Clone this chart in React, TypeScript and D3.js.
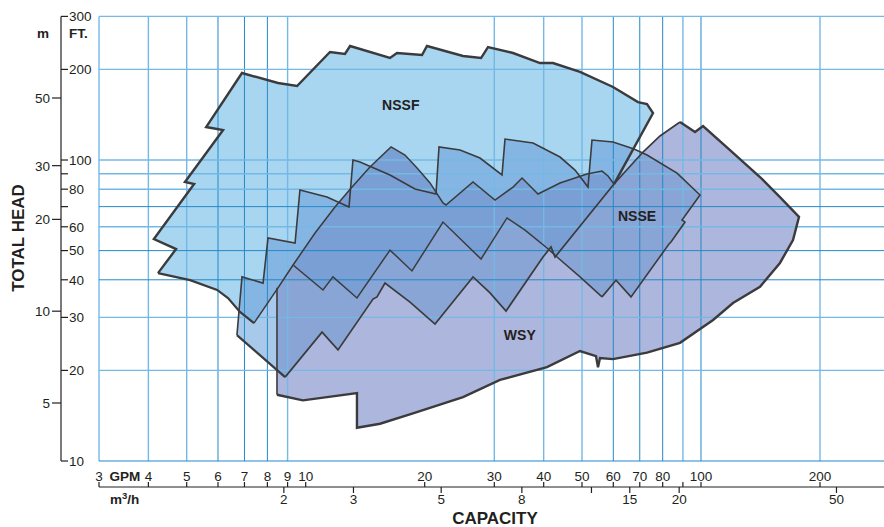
import React from 'react';
import * as d3 from 'd3';

type P = [number, number];

// ---- data: [capacity GPM, total head ft] ----
const nssfOuter: P[] = [
  [4.23, 42.1], [4.70, 50.6], [4.13, 54.6], [5.22, 83.2], [4.95, 84.5], [6.18, 125.8], [5.60, 128.7],
  [6.90, 194.6], [8.51, 180.2], [9.51, 176.1], [11.52, 228.5], [12.57, 225.0], [12.95, 239.2],
  [16.34, 218.2], [17.02, 226.7], [19.69, 223.3], [20.27, 239.2], [25.0, 221.6], [27.77, 218.2],
  [28.92, 237.4], [33.46, 226.7], [39.15, 210.0], [42.23, 210.0], [49.42, 196.1], [59.90, 174.8],
  [69.29, 155.8], [73.02, 153.5], [75.62, 143.3], [60.25, 83.2],
];
const nssfBase: P[] = [[4.23, 42.1], [5.10, 39.9], [5.97, 37.0], [6.36, 34.8], [6.82, 31.3], [7.40, 28.7]];
const nssfLower: P[] = [
  [7.40, 28.7], [8.51, 37.6], [9.29, 44.8], [10.56, 57.2], [11.86, 69.8], [13.10, 81.3], [14.54, 94.8],
  [16.44, 110.5], [17.83, 103.9], [19.13, 94.1], [20.63, 83.9], [22.25, 72.0], [22.64, 70.9],
  [26.50, 84.5], [30.12, 73.6], [33.46, 81.3], [35.26, 87.1], [38.70, 77.1], [43.99, 83.9],
  [51.48, 89.8], [56.18, 91.9], [58.18, 88.5], [60.25, 83.2],
];
const nsseOutline: P[] = [
  [6.70, 26.2], [6.90, 40.9], [7.80, 39.0], [8.03, 55.1], [9.40, 53.0], [9.67, 79.5], [11.32, 75.3],
  [12.87, 69.8], [13.17, 100], [13.72, 98.5], [16.34, 89.2], [18.90, 80.1], [21.36, 77.1],
  [21.74, 110.5], [24.57, 107.9], [27.60, 101.5], [31.38, 89.2], [31.93, 117.4], [37.59, 113.9],
  [43.99, 102.3], [48.01, 92.6], [51.78, 81.3], [53.00, 116.5], [59.90, 114.8], [67.69, 108.8],
  [73.02, 103.9], [86.97, 90.5], [99.43, 76.5], [89.53, 63.2], [91.11, 62.2], [83.97, 53.4],
  [83.01, 52.6], [66.52, 35.1], [60.95, 39.9], [56.18, 35.1],
];
const nsseBase: P[] = [[6.70, 26.2], [8.87, 19.0]];
const midLine: P[] = [
  [9.29, 44.8], [11.06, 37.0], [11.72, 40.9], [13.48, 34.8], [16.34, 50.2], [18.57, 42.8], [22.25, 62.2],
  [27.77, 46.9], [32.30, 64.2], [35.88, 58.5], [40.78, 51.0], [43.23, 47.6], [49.42, 40.9], [56.18, 35.1],
];
const wsyTop: P[] = [
  [8.87, 19.0], [11.00, 26.8], [12.07, 23.4], [14.80, 34.5], [15.15, 35.1], [15.87, 39.0], [18.36, 33.7],
  [21.24, 28.5], [26.50, 40.9], [29.26, 36.2], [32.12, 31.5], [39.84, 47.6], [41.74, 51.4], [42.73, 47.6],
  [60.25, 83.2], [71.34, 106.3], [78.76, 120.2], [88.49, 133.7],
];
const wsyOuter: P[] = [
  [88.49, 133.7], [96.58, 123.9], [101.2, 129.7], [118.4, 107.9], [141.0, 87.8], [158.4, 75.3],
  [177.0, 64.7], [170.9, 54.2], [158.4, 45.5], [141.0, 37.9], [120.5, 33.5], [107.3, 29.4],
  [88.49, 24.7], [73.02, 22.9], [59.90, 21.8], [55.53, 22.0], [54.89, 20.5], [54.25, 22.3],
  [49.42, 23.2], [40.78, 20.5], [31.01, 18.6], [25.0, 16.3], [18.68, 14.4], [15.42, 13.3],
  [13.48, 12.9], [13.48, 16.8], [9.84, 15.9], [8.46, 16.6],
];
const wsyLeft: P[] = [[8.46, 16.6], [8.46, 37.6]];

const seriesLabels: { name: string; at: P }[] = [
  { name: 'NSSF', at: [17.4, 152] },
  { name: 'NSSE', at: [68.9, 65.2] },
  { name: 'WSY', at: [34.8, 26.2] },
];

const gpmTicks = [3, 4, 5, 6, 7, 8, 9, 10, 20, 30, 40, 50, 60, 70, 80, 90, 100, 200];
const gpmLabels = [3, 4, 5, 6, 7, 8, 9, 10, 20, 30, 40, 50, 60, 70, 80, 100, 200];
const gpmGridLight = [3, 4, 5, 9, 30, 40, 50, 90, 200];
const gpmGridDark = [6, 7, 8, 60, 70, 80, 100];
const m3hTicks = [2, 3, 5, 8, 12, 15, 20, 50];
const m3hLabels = [2, 3, 5, 8, 15, 20, 50];
const ftTicks = [10, 20, 30, 40, 50, 60, 70, 80, 90, 100, 200, 300];
const ftLabels = [10, 20, 30, 40, 50, 60, 80, 100, 200, 300];
const ftGridLight = [300, 200, 100, 90, 80, 60, 30, 20];
const ftGridDark = [70, 50, 40, 10];
const mTicks = [5, 10, 20, 30, 50];
const M3H_TO_GPM = 4.4029;

// ---- scales ----
const x = d3.scaleLog().domain([3, 300]).range([99, 889.6]);
const y = d3.scaleLog().domain([10, 300]).range([461, 16.4]);
const yM = d3.scaleLog().domain([5, 50]).range([403, 98]);

const line = d3.line<P>().x((d) => x(d[0])).y((d) => y(d[1]));
const poly = (pts: P[]) => (line(pts) as string) + 'Z';
const rev = (a: P[]) => a.slice().reverse();

const FONT = '"Liberation Sans", Arial, Helvetica, sans-serif';
const INK = '#231f20';
const OUT = '#3b3b3d';

export default function App() {
  const x0 = x(3);
  const yTop = y(300);
  const yBot = y(10);
  const axisY = 487;

  const nssfFill = [...nssfOuter, ...rev(nssfLower).slice(1), ...rev(nssfBase).slice(1)];
  const nsseFill = [...nsseOutline, ...rev(midLine.slice(11, 13)), ...rev(wsyTop.slice(0, 14))];
  const wsyFill = [...wsyTop, ...wsyOuter.slice(1), [8.46, 20.1] as P];
  const c3 = [...nsseOutline.slice(1, 25), ...rev(nssfLower), nssfBase[4]];
  const c4 = [...nssfLower.slice(2), ...rev(midLine.slice(0, 12))];
  const c5a = [[8.46, 37.6] as P, ...midLine.slice(0, 12), ...rev(wsyTop.slice(0, 14)), [8.46, 20.1] as P];
  const c5b = [wsyTop[15], ...nsseOutline.slice(25), ...rev(midLine.slice(11, 13)), wsyTop[14]];

  return (
    <div style={{ position: 'absolute', left: 0, top: 0 }}>
      <svg width={884} height={527} style={{ display: 'block', background: '#fff' }} fontFamily={FONT}>
        {/* fills */}
        <path d={poly(nssfFill)} fill="#a8d5f0" />
        <path d={poly(nsseFill)} fill="#a9c9eb" />
        <path d={poly(wsyFill)} fill="#adb6dd" />
        <path d={poly(c3)} fill="#85b6e3" />
        <path d={poly(c4)} fill="#799fd4" />
        <path d={poly(c5a)} fill="#89a5d5" />
        <path d={poly(c5b)} fill="#89a5d5" />

        {/* grid */}
        {gpmGridLight.map((g) => (
          <line key={'gl' + g} x1={x(g)} x2={x(g)} y1={yTop} y2={yBot} stroke="#74b9e5" strokeWidth={1.4} />
        ))}
        {gpmGridDark.map((g) => (
          <line key={'gd' + g} x1={x(g)} x2={x(g)} y1={yTop} y2={yBot} stroke="#2388c8" strokeWidth={1} />
        ))}
        {ftGridLight.map((g) => (
          <line key={'hl' + g} x1={x0} x2={884} y1={y(g)} y2={y(g)} stroke="#74b9e5" strokeWidth={1.4} />
        ))}
        {ftGridDark.map((g) => (
          <line key={'hd' + g} x1={x0} x2={884} y1={y(g)} y2={y(g)} stroke="#2388c8" strokeWidth={1} />
        ))}

        {/* outlines */}
        <g fill="none" stroke={OUT} strokeLinejoin="miter" strokeMiterlimit={3}>
          <path d={line(nssfLower) as string} strokeWidth={1.5} />
          <path d={line(nsseOutline) as string} strokeWidth={1.6} />
          <path d={line(midLine) as string} strokeWidth={1.5} />
          <path d={line(wsyTop) as string} strokeWidth={1.7} />
          <path d={line(wsyLeft) as string} strokeWidth={1.6} />
          <path d={line(nsseBase) as string} strokeWidth={2.2} />
          <path d={line(nssfOuter) as string} strokeWidth={2.4} />
          <path d={line(nssfBase) as string} strokeWidth={2.2} />
          <path d={line(wsyOuter) as string} strokeWidth={2.4} />
        </g>

        {/* series labels */}
        {seriesLabels.map((s) => (
          <text key={s.name} x={x(s.at[0])} y={y(s.at[1])} dy="0.36em" textAnchor="middle"
            fontSize={14} fontWeight="bold" fill={INK}>{s.name}</text>
        ))}

        {/* left axis */}
        <line x1={61} x2={61} y1={yTop} y2={yBot} stroke={INK} strokeWidth={1.2} />
        {ftTicks.map((t) => (
          <line key={'ft' + t} x1={61} x2={68} y1={y(t)} y2={y(t)} stroke={INK} strokeWidth={1.2} />
        ))}
        {ftLabels.map((t) => (
          <text key={'ftl' + t} x={69} y={y(t)} dy="0.36em" fontSize={13.5} fill={INK}>{t}</text>
        ))}
        {mTicks.map((t) => (
          <g key={'m' + t}>
            <line x1={52} x2={61} y1={yM(t)} y2={yM(t)} stroke={INK} strokeWidth={1.2} />
            <text x={50} y={yM(t)} dy="0.36em" textAnchor="end" fontSize={13.5} fill={INK}>{t}</text>
          </g>
        ))}
        <text x={69} y={38} fontSize={13.5} fontWeight="bold" fill={INK}>FT.</text>
        <text x={49} y={38} textAnchor="end" fontSize={13.5} fontWeight="bold" fill={INK}>m</text>
        <text transform="translate(24,238) rotate(-90)" textAnchor="middle" fontSize={17}
          fontWeight="bold" fill={INK}>TOTAL HEAD</text>

        {/* bottom axis */}
        <line x1={x0} x2={884} y1={axisY} y2={axisY} stroke={INK} strokeWidth={1.2} />
        {gpmTicks.map((t) => (
          <line key={'gt' + t} x1={x(t)} x2={x(t)} y1={axisY - 5} y2={axisY} stroke={INK} strokeWidth={1.2} />
        ))}
        {gpmLabels.map((t) => (
          <text key={'gtl' + t} x={x(t)} y={481} textAnchor="middle" fontSize={13.5} fill={INK}>{t}</text>
        ))}
        <text x={125} y={481} textAnchor="middle" fontSize={13.5} fontWeight="bold" fill={INK}>GPM</text>
        {m3hTicks.map((t) => (
          <line key={'mt' + t} x1={x(t * M3H_TO_GPM)} x2={x(t * M3H_TO_GPM)} y1={axisY} y2={axisY + 6}
            stroke={INK} strokeWidth={1.2} />
        ))}
        {m3hLabels.map((t) => (
          <text key={'mtl' + t} x={x(t * M3H_TO_GPM)} y={504} textAnchor="middle" fontSize={13.5} fill={INK}>{t}</text>
        ))}
        <text x={110} y={504} fontSize={13.5} fontWeight="bold" fill={INK}>
          m<tspan dy={-5} fontSize={9.5}>3</tspan><tspan dy={5}>/h</tspan>
        </text>
        <text x={495} y={524} textAnchor="middle" fontSize={17} fontWeight="bold" fill={INK}>CAPACITY</text>
      </svg>
    </div>
  );
}
